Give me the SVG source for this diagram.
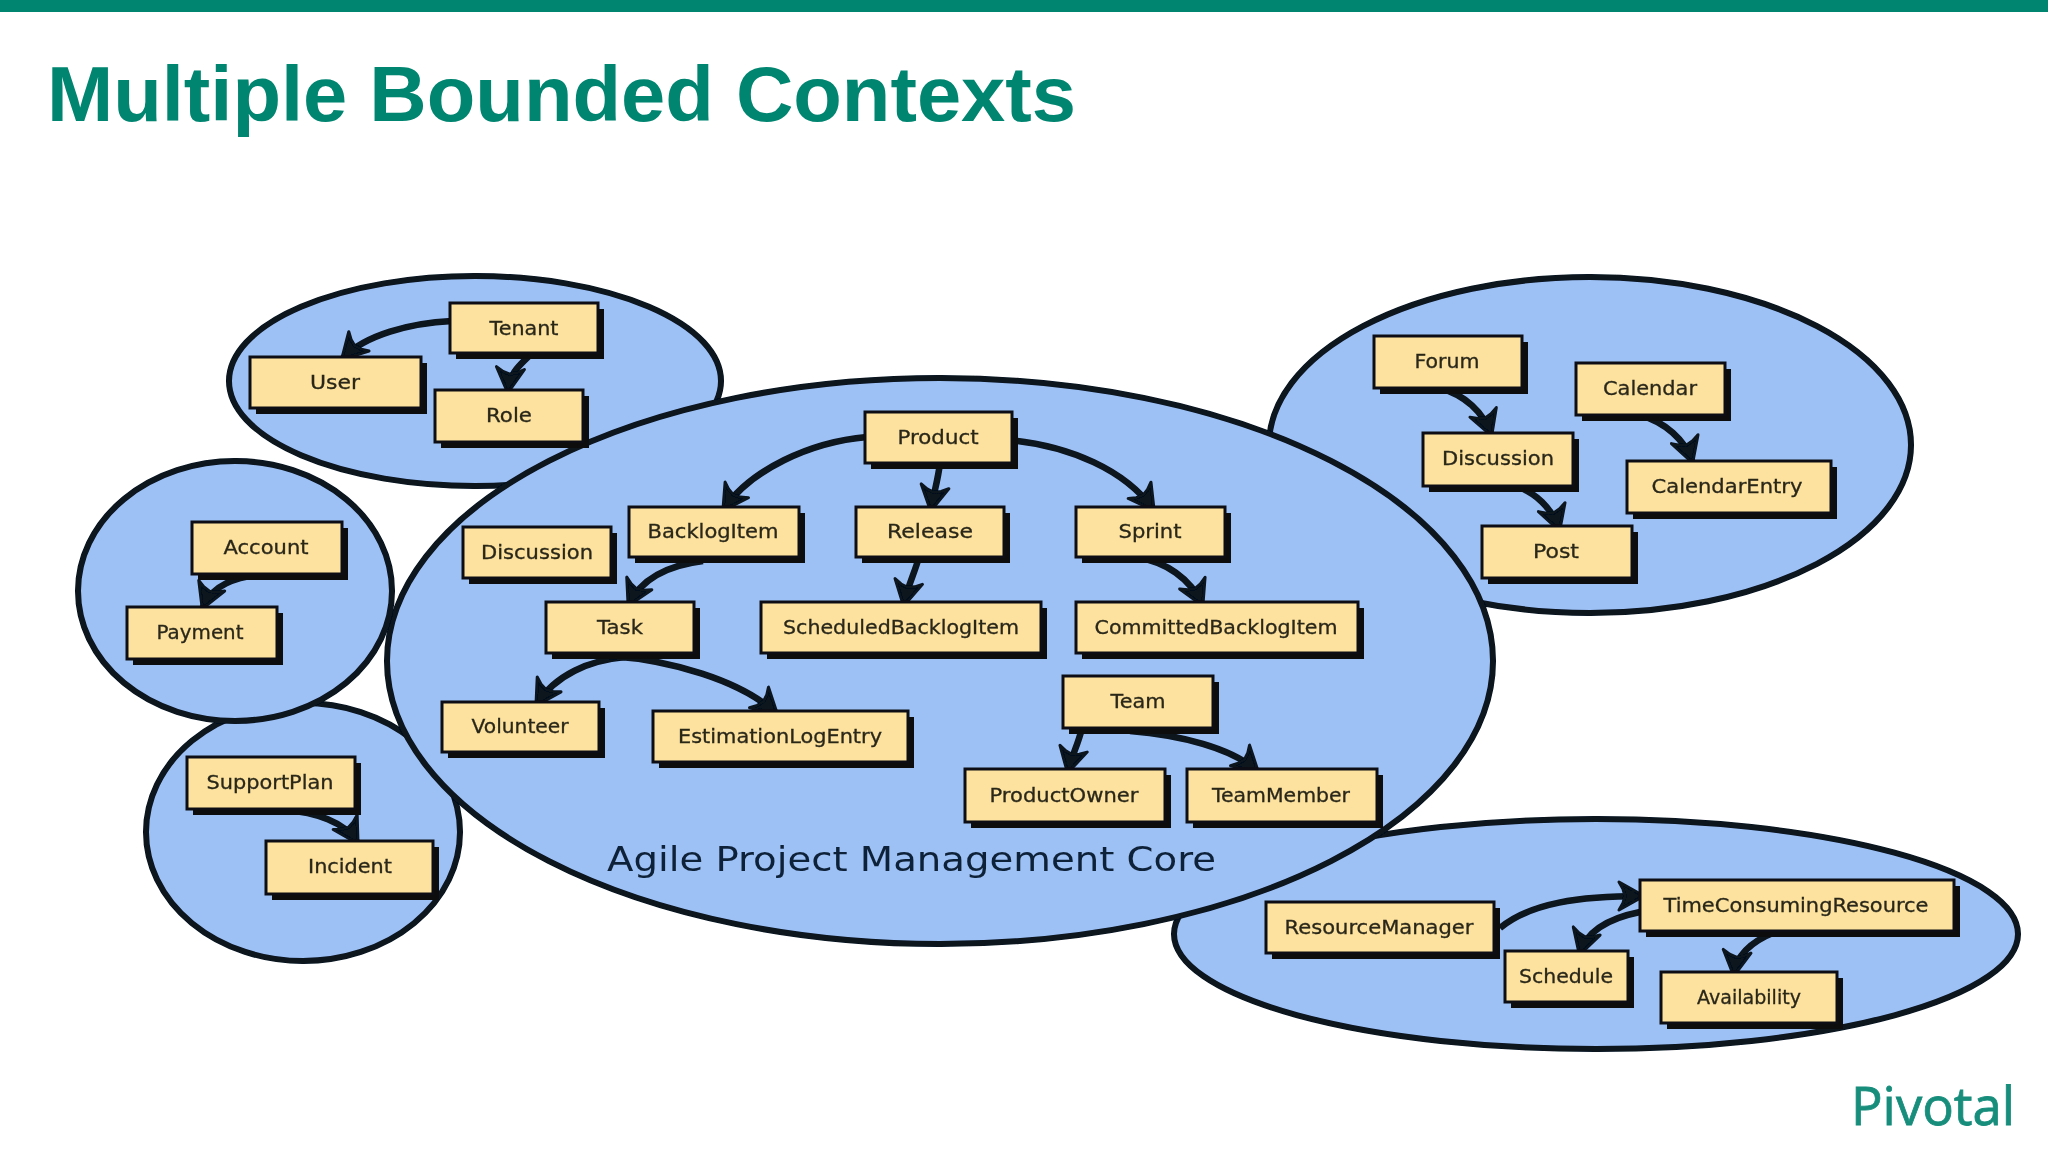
<svg xmlns="http://www.w3.org/2000/svg" width="2048" height="1152" viewBox="0 0 2048 1152">
<style>
.ctx{fill:#9dc0f5;stroke:#07121f;stroke-width:6}
.box{fill:#fde29f;stroke:#0c0f12;stroke-width:3}
.sh{fill:#0a0d10}
.lb{font-family:"DejaVu Sans",sans-serif;font-size:19px;fill:#2a281a;stroke:#2a281a;stroke-width:0.3;text-anchor:middle}
.arr{fill:none;stroke:#07121f;stroke-width:6.5;marker-end:url(#ah)}
.core{font-family:"DejaVu Sans",sans-serif;font-size:33px;fill:#0f2238}
</style>
<defs>
<marker id="ah" markerUnits="userSpaceOnUse" markerWidth="44" markerHeight="44" refX="34" refY="22" orient="auto">
<path d="M36 22 L11 8 L15 15 L17 22 L15 29 L11 36 Z" fill="#07121f" stroke="#07121f" stroke-width="3" stroke-linejoin="round"/>
</marker>
<filter id="soft" filterUnits="userSpaceOnUse" x="0" y="0" width="2048" height="1152"><feGaussianBlur stdDeviation="0.6"/></filter>
</defs>
<rect width="2048" height="1152" fill="#ffffff"/>
<rect width="2048" height="12" fill="#008571"/>
<text id="title" x="47" y="121" font-family="Liberation Sans, Arial, sans-serif" font-weight="700" font-size="78" fill="#008571" textLength="1029" lengthAdjust="spacingAndGlyphs">Multiple Bounded Contexts</text>
<g filter="url(#soft)">
<g id="contexts">
<ellipse class="ctx" cx="303" cy="832" rx="157" ry="129"/>
<ellipse class="ctx" cx="475" cy="381" rx="246" ry="105"/>
<ellipse class="ctx" cx="1590" cy="445" rx="321" ry="168"/>
<ellipse class="ctx" cx="1596" cy="934" rx="422" ry="115"/>
<ellipse class="ctx" cx="940" cy="661" rx="553" ry="283"/>
<ellipse class="ctx" cx="235" cy="591" rx="157" ry="130"/>
</g>
<text id="core-label" class="core" x="607" y="871" textLength="609" lengthAdjust="spacingAndGlyphs">Agile Project Management Core</text>
<g id="connectors">
<path class="arr" d="M452 321 C410 323 365 335 343 358"/>
<path class="arr" d="M530 355 C520 365 510 372 508 391"/>
<path class="arr" d="M867 437 C810 442 750 470 724 509"/>
<path class="arr" d="M940 463 C938 480 934 492 931 509"/>
<path class="arr" d="M1010 440 C1070 446 1125 470 1153 509"/>
<path class="arr" d="M919 557 C915 572 908 585 904 604"/>
<path class="arr" d="M703 561 C670 565 642 578 629 604"/>
<path class="arr" d="M625 657 C590 660 555 675 537 704"/>
<path class="arr" d="M610 656 C670 660 740 680 776 713"/>
<path class="arr" d="M1140 558 C1165 562 1190 578 1202 604"/>
<path class="arr" d="M1082 728 C1078 745 1072 755 1068 771"/>
<path class="arr" d="M1130 731 C1180 735 1232 748 1257 771"/>
<path class="arr" d="M265 574 C235 577 212 585 203 607"/>
<path class="arr" d="M285 810 C315 812 345 822 357 842"/>
<path class="arr" d="M1440 388 C1465 395 1483 412 1491 434"/>
<path class="arr" d="M1515 486 C1535 492 1552 508 1559 529"/>
<path class="arr" d="M1640 415 C1665 422 1685 440 1692 461"/>
<path class="arr" d="M1500 928 C1530 903 1580 896 1642 896"/>
<path class="arr" d="M1640 912 C1610 918 1587 930 1580 953"/>
<path class="arr" d="M1775 932 C1755 940 1737 952 1734 974"/>
</g>
<g id="n-tenant"><rect class="sh" x="456" y="309" width="148" height="50"/><rect class="box" x="450" y="303" width="148" height="50"/><text class="lb" x="524" y="335" textLength="69" lengthAdjust="spacingAndGlyphs">Tenant</text></g>
<g id="n-user"><rect class="sh" x="256" y="363" width="171" height="51"/><rect class="box" x="250" y="357" width="171" height="51"/><text class="lb" x="335" y="389" textLength="50" lengthAdjust="spacingAndGlyphs">User</text></g>
<g id="n-role"><rect class="sh" x="441" y="396" width="148" height="52"/><rect class="box" x="435" y="390" width="148" height="52"/><text class="lb" x="509" y="422" textLength="46" lengthAdjust="spacingAndGlyphs">Role</text></g>
<g id="n-product"><rect class="sh" x="871" y="418" width="147" height="51"/><rect class="box" x="865" y="412" width="147" height="51"/><text class="lb" x="938" y="444" textLength="81" lengthAdjust="spacingAndGlyphs">Product</text></g>
<g id="n-backlogitem"><rect class="sh" x="635" y="513" width="170" height="50"/><rect class="box" x="629" y="507" width="170" height="50"/><text class="lb" x="713" y="538" textLength="131" lengthAdjust="spacingAndGlyphs">BacklogItem</text></g>
<g id="n-release"><rect class="sh" x="862" y="513" width="148" height="50"/><rect class="box" x="856" y="507" width="148" height="50"/><text class="lb" x="930" y="538" textLength="86" lengthAdjust="spacingAndGlyphs">Release</text></g>
<g id="n-sprint"><rect class="sh" x="1082" y="513" width="149" height="50"/><rect class="box" x="1076" y="507" width="149" height="50"/><text class="lb" x="1150" y="538" textLength="63" lengthAdjust="spacingAndGlyphs">Sprint</text></g>
<g id="n-discussion-core"><rect class="sh" x="469" y="533" width="148" height="51"/><rect class="box" x="463" y="527" width="148" height="51"/><text class="lb" x="537" y="559" textLength="112" lengthAdjust="spacingAndGlyphs">Discussion</text></g>
<g id="n-task"><rect class="sh" x="552" y="608" width="148" height="51"/><rect class="box" x="546" y="602" width="148" height="51"/><text class="lb" x="620" y="634" textLength="46" lengthAdjust="spacingAndGlyphs">Task</text></g>
<g id="n-scheduled"><rect class="sh" x="767" y="608" width="280" height="51"/><rect class="box" x="761" y="602" width="280" height="51"/><text class="lb" x="901" y="634" textLength="236" lengthAdjust="spacingAndGlyphs">ScheduledBacklogItem</text></g>
<g id="n-committed"><rect class="sh" x="1082" y="608" width="282" height="51"/><rect class="box" x="1076" y="602" width="282" height="51"/><text class="lb" x="1216" y="634" textLength="243" lengthAdjust="spacingAndGlyphs">CommittedBacklogItem</text></g>
<g id="n-volunteer"><rect class="sh" x="448" y="708" width="157" height="50"/><rect class="box" x="442" y="702" width="157" height="50"/><text class="lb" x="520" y="733" textLength="97" lengthAdjust="spacingAndGlyphs">Volunteer</text></g>
<g id="n-estimation"><rect class="sh" x="659" y="717" width="255" height="51"/><rect class="box" x="653" y="711" width="255" height="51"/><text class="lb" x="780" y="743" textLength="204" lengthAdjust="spacingAndGlyphs">EstimationLogEntry</text></g>
<g id="n-team"><rect class="sh" x="1069" y="682" width="150" height="52"/><rect class="box" x="1063" y="676" width="150" height="52"/><text class="lb" x="1138" y="708" textLength="55" lengthAdjust="spacingAndGlyphs">Team</text></g>
<g id="n-productowner"><rect class="sh" x="971" y="775" width="200" height="53"/><rect class="box" x="965" y="769" width="200" height="53"/><text class="lb" x="1064" y="802" textLength="149" lengthAdjust="spacingAndGlyphs">ProductOwner</text></g>
<g id="n-teammember"><rect class="sh" x="1193" y="775" width="190" height="53"/><rect class="box" x="1187" y="769" width="190" height="53"/><text class="lb" x="1281" y="802" textLength="138" lengthAdjust="spacingAndGlyphs">TeamMember</text></g>
<g id="n-account"><rect class="sh" x="198" y="528" width="150" height="52"/><rect class="box" x="192" y="522" width="150" height="52"/><text class="lb" x="266" y="554" textLength="85" lengthAdjust="spacingAndGlyphs">Account</text></g>
<g id="n-payment"><rect class="sh" x="133" y="613" width="150" height="52"/><rect class="box" x="127" y="607" width="150" height="52"/><text class="lb" x="200" y="639" textLength="87" lengthAdjust="spacingAndGlyphs">Payment</text></g>
<g id="n-supportplan"><rect class="sh" x="193" y="763" width="168" height="52"/><rect class="box" x="187" y="757" width="168" height="52"/><text class="lb" x="270" y="789" textLength="127" lengthAdjust="spacingAndGlyphs">SupportPlan</text></g>
<g id="n-incident"><rect class="sh" x="272" y="847" width="167" height="53"/><rect class="box" x="266" y="841" width="167" height="53"/><text class="lb" x="350" y="873" textLength="84" lengthAdjust="spacingAndGlyphs">Incident</text></g>
<g id="n-forum"><rect class="sh" x="1380" y="342" width="148" height="52"/><rect class="box" x="1374" y="336" width="148" height="52"/><text class="lb" x="1447" y="368" textLength="65" lengthAdjust="spacingAndGlyphs">Forum</text></g>
<g id="n-calendar"><rect class="sh" x="1582" y="369" width="149" height="52"/><rect class="box" x="1576" y="363" width="149" height="52"/><text class="lb" x="1650" y="395" textLength="94" lengthAdjust="spacingAndGlyphs">Calendar</text></g>
<g id="n-discussion"><rect class="sh" x="1429" y="439" width="150" height="53"/><rect class="box" x="1423" y="433" width="150" height="53"/><text class="lb" x="1498" y="465" textLength="112" lengthAdjust="spacingAndGlyphs">Discussion</text></g>
<g id="n-calendarentry"><rect class="sh" x="1633" y="467" width="204" height="52"/><rect class="box" x="1627" y="461" width="204" height="52"/><text class="lb" x="1727" y="493" textLength="151" lengthAdjust="spacingAndGlyphs">CalendarEntry</text></g>
<g id="n-post"><rect class="sh" x="1488" y="532" width="150" height="52"/><rect class="box" x="1482" y="526" width="150" height="52"/><text class="lb" x="1556" y="558" textLength="46" lengthAdjust="spacingAndGlyphs">Post</text></g>
<g id="n-resourcemanager"><rect class="sh" x="1272" y="908" width="228" height="51"/><rect class="box" x="1266" y="902" width="228" height="51"/><text class="lb" x="1379" y="934" textLength="189" lengthAdjust="spacingAndGlyphs">ResourceManager</text></g>
<g id="n-timeconsuming"><rect class="sh" x="1646" y="886" width="314" height="51"/><rect class="box" x="1640" y="880" width="314" height="51"/><text class="lb" x="1796" y="912" textLength="265" lengthAdjust="spacingAndGlyphs">TimeConsumingResource</text></g>
<g id="n-schedule"><rect class="sh" x="1511" y="957" width="123" height="51"/><rect class="box" x="1505" y="951" width="123" height="51"/><text class="lb" x="1566" y="983" textLength="94" lengthAdjust="spacingAndGlyphs">Schedule</text></g>
<g id="n-availability"><rect class="sh" x="1667" y="978" width="176" height="51"/><rect class="box" x="1661" y="972" width="176" height="51"/><text class="lb" x="1749" y="1004" textLength="104" lengthAdjust="spacingAndGlyphs">Availability</text></g>
</g>
<text id="logo" x="1851" y="1125" font-family="Open Sans, sans-serif" font-size="53" fill="#178d7c" stroke="#178d7c" stroke-width="0.8" textLength="164" lengthAdjust="spacingAndGlyphs">Pivotal</text>
</svg>
